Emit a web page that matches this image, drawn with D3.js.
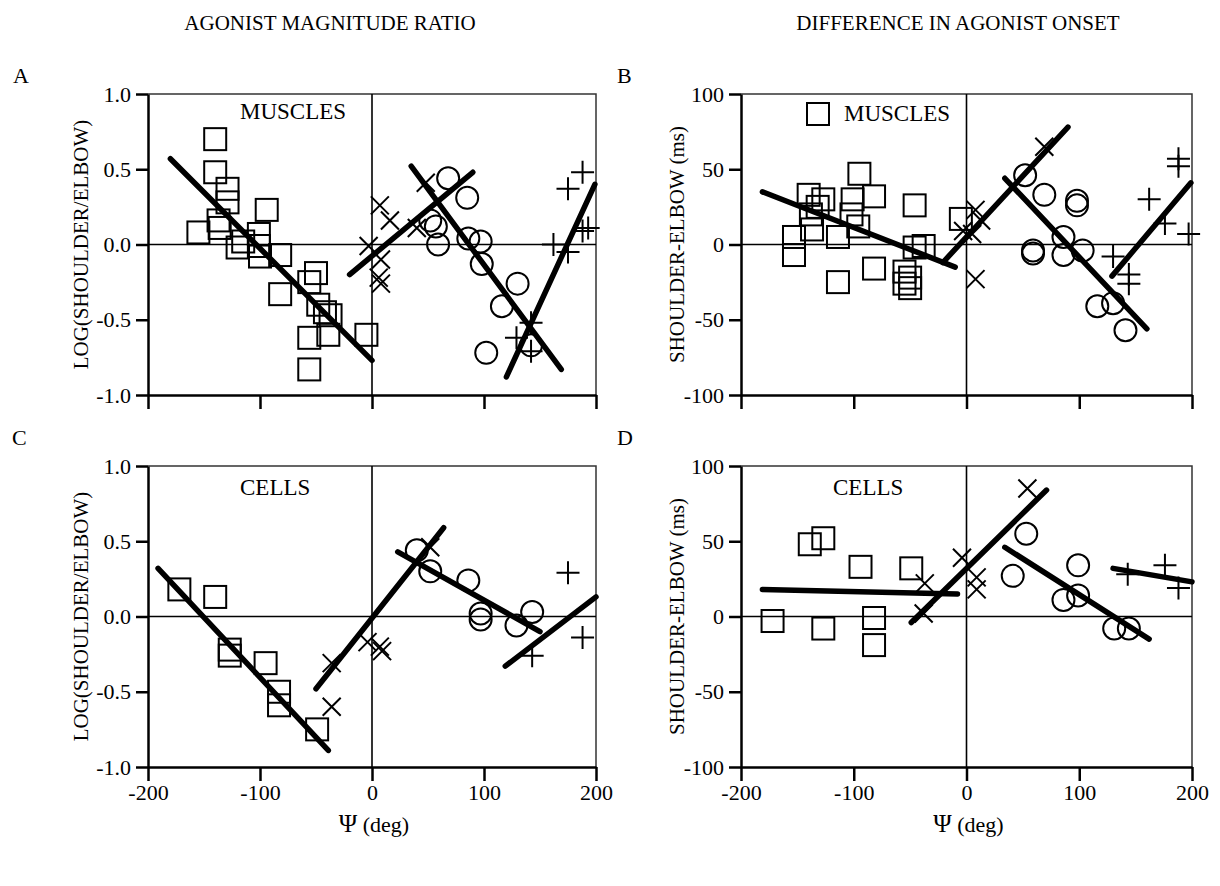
<!DOCTYPE html>
<html>
<head>
<meta charset="utf-8">
<script src="https://cdn.jsdelivr.net/npm/d3@7"></script>
<style>
    body { margin: 0; background: #fff; }
    svg { display: block; }
    text { font-family: "Liberation Serif", "Times New Roman", serif; fill: black; }
</style>
</head>
<body>
<svg id="drawing_region"></svg>
<script>
// tick values
const xTicks = [-200, -100, 0, 100, 200];
const ratioTicks = [-1.0, -0.5, 0.0, 0.5, 1.0];
const onsetTicks = [-100, -50, 0, 50, 100];

const columnTitles = ['AGONIST MAGNITUDE RATIO', 'DIFFERENCE IN AGONIST ONSET'];

// Panel A: log(shoulder/elbow), muscles
const aSquares = [[-140, 0.70], [-140, 0.48], [-129, 0.37], [-129, 0.28], [-94, 0.23], [-137, 0.16], [-136, 0.11],
    [-155, 0.08], [-115, 0.02], [-120, -0.02], [-101, 0.07], [-101, -0.01], [-100, -0.08], [-82, -0.07],
    [-82, -0.33], [-50, -0.19], [-56, -0.25], [-48, -0.40], [-42, -0.45], [-37, -0.47], [-56, -0.62],
    [-39, -0.60], [-5, -0.60], [-56, -0.83]];
const aCrosses = [[-3, -0.01], [7, 0.26], [16, 0.16], [8, -0.10], [6, -0.22], [8, -0.26], [40, 0.11], [48, 0.41]];
const aCircles = [[68, 0.44], [85, 0.31], [57, 0.12], [52, 0.16], [59, 0.0], [86, 0.04], [97, 0.02], [98, -0.13],
    [130, -0.26], [116, -0.41], [102, -0.72], [142, -0.67]];
const aPluses = [[188, 0.48], [175, 0.37], [188, 0.09], [193, 0.11], [162, 0.0], [175, -0.05], [142, -0.52],
    [129, -0.62], [142, -0.71]];
const aFits = [[[-180, 0.57], [0, -0.77]], [[-20, -0.20], [90, 0.48]], [[35, 0.52], [169, -0.83]], [[120, -0.88], [199, 0.40]]];

// Panel B: shoulder-elbow onset (ms), muscles
const bSquares = [[-140, 33], [-127, 30], [-132, 25], [-95, 47], [-101, 30], [-82, 32], [-138, 20], [-102, 20],
    [-96, 12], [-137, 10], [-153, 5], [-114, 5], [-153, -7], [-114, -25], [-82, -16], [-46, 26], [-46, -2],
    [-38, -1], [-55, -18], [-50, -22], [-55, -26], [-50, -29], [-5, 17]];
const bCrosses = [[-3, 9], [8, 23], [13, 16], [5, 7], [8, -23], [69, 65]];
const bCircles = [[52, 46], [69, 33], [98, 29], [98, 26], [59, -4], [59, -6], [86, 5], [86, -7], [103, -4],
    [116, -41], [130, -39], [141, -57]];
const bPluses = [[188, 57], [188, 52], [162, 30], [176, 14], [197, 7], [130, -8], [144, -20], [144, -26]];
const bFits = [[[-181, 35], [-10, -15]], [[-21, -12], [90, 78]], [[34, 44], [160, -56]], [[129, -21], [199, 41]]];

// Panel C: log(shoulder/elbow), cells
const cSquares = [[-172, 0.18], [-140, 0.13], [-127, -0.22], [-127, -0.26], [-95, -0.31], [-83, -0.50], [-83, -0.59], [-49, -0.75]];
const cCrosses = [[-36, -0.31], [-36, -0.60], [-4, -0.17], [7, -0.20], [9, -0.23], [52, 0.46]];
const cCircles = [[40, 0.44], [52, 0.30], [86, 0.24], [97, 0.02], [97, -0.02], [129, -0.06], [143, 0.03]];
const cPluses = [[175, 0.29], [188, -0.14], [143, -0.26]];
const cFits = [[[-191, 0.32], [-39, -0.89]], [[-50, -0.48], [64, 0.59]], [[23, 0.43], [150, -0.10]], [[119, -0.33], [200, 0.13]]];

// Panel D: shoulder-elbow onset (ms), cells
const dSquares = [[-139, 48], [-127, 52], [-94, 33], [-49, 32], [-172, -3], [-127, -8], [-82, -1], [-82, -19]];
const dCrosses = [[-37, 22], [-38, 2], [-4, 39], [9, 26], [9, 18], [54, 85]];
const dCircles = [[53, 55], [41, 27], [99, 34], [86, 11], [99, 14], [131, -8], [144, -8]];
const dPluses = [[143, 28], [176, 34], [188, 19]];
const dFits = [[[-181, 18], [-8, 15]], [[-49, -4], [71, 84]], [[34, 46], [162, -15]], [[130, 32], [200, 23]]];

const FONT = '"Liberation Serif", "Times New Roman", serif';

const svg = d3.select('#drawing_region')
    .attr('width', 1220)
    .attr('height', 886)
    .attr('font-family', FONT);

const panels = [
    { letter: 'A', lx: 13, ly: 83, left: 148, right: 596, top: 94, bottom: 395, ydomain: [-1, 1], yticks: ratioTicks,
      yfmt: d => d.toFixed(1), ylabel: 'LOG(SHOULDER/ELBOW)', ylabelX: 88, xlabels: false,
      squares: aSquares, crosses: aCrosses, circles: aCircles, pluses: aPluses, fits: aFits,
      note: 'MUSCLES', noteDx: 92, noteDy: 25, legend: false },
    { letter: 'B', lx: 617, ly: 83, left: 741, right: 1192, top: 94, bottom: 395, ydomain: [-100, 100], yticks: onsetTicks,
      yfmt: d => String(d), ylabel: 'SHOULDER-ELBOW (ms)', ylabelX: 684, xlabels: false,
      squares: bSquares, crosses: bCrosses, circles: bCircles, pluses: bPluses, fits: bFits,
      note: 'MUSCLES', noteDx: 103, noteDy: 27, legend: true },
    { letter: 'C', lx: 12, ly: 445, left: 148, right: 596, top: 466, bottom: 767, ydomain: [-1, 1], yticks: ratioTicks,
      yfmt: d => d.toFixed(1), ylabel: 'LOG(SHOULDER/ELBOW)', ylabelX: 88, xlabels: true,
      squares: cSquares, crosses: cCrosses, circles: cCircles, pluses: cPluses, fits: cFits,
      note: 'CELLS', noteDx: 92, noteDy: 29, legend: false },
    { letter: 'D', lx: 617, ly: 445, left: 741, right: 1192, top: 466, bottom: 767, ydomain: [-100, 100], yticks: onsetTicks,
      yfmt: d => String(d), ylabel: 'SHOULDER-ELBOW (ms)', ylabelX: 684, xlabels: true,
      squares: dSquares, crosses: dCrosses, circles: dCircles, pluses: dPluses, fits: dFits,
      note: 'CELLS', noteDx: 92, noteDy: 29, legend: false }
];

// column titles
svg.selectAll('.col_title')
    .data(columnTitles)
    .enter()
    .append('text')
    .attr('class', 'col_title')
    .attr('x', (d, i) => i == 0 ? 330 : 958)
    .attr('y', 30)
    .attr('text-anchor', 'middle')
    .attr('font-size', '21px')
    .text(d => d);

panels.forEach(p => drawPanel(p));

function drawPanel(p) {
    const xscale = d3.scaleLinear().domain([-200, 200]).range([p.left, p.right]);
    const yscale = d3.scaleLinear().domain(p.ydomain).range([p.bottom, p.top]);
    const g = svg.append('g');

    // panel letter
    g.append('text')
        .attr('x', p.lx)
        .attr('y', p.ly)
        .attr('font-size', '22px')
        .text(p.letter);

    // frame: top and right
    g.append('path')
        .attr('d', `M${p.left},${p.top}H${p.right}V${p.bottom}`)
        .attr('fill', 'none')
        .attr('stroke', '#333')
        .attr('stroke-width', 1.5);

    // zero lines
    g.append('line')
        .attr('x1', p.left).attr('x2', p.right)
        .attr('y1', yscale(0)).attr('y2', yscale(0))
        .attr('stroke', 'black')
        .attr('stroke-width', 1.6);
    g.append('line')
        .attr('x1', xscale(0)).attr('x2', xscale(0))
        .attr('y1', p.top).attr('y2', p.bottom)
        .attr('stroke', 'black')
        .attr('stroke-width', 1.6);

    // axes
    const xaxis = d3.axisBottom(xscale)
        .tickValues(xTicks)
        .tickSize(14)
        .tickPadding(3)
        .tickSizeOuter(0)
        .tickFormat(p.xlabels ? (d => String(d)) : '');
    const yaxis = d3.axisLeft(yscale)
        .tickValues(p.yticks)
        .tickSize(12)
        .tickPadding(5)
        .tickSizeOuter(0)
        .tickFormat(p.yfmt);

    const xg = g.append('g')
        .attr('transform', `translate(0, ${p.bottom})`)
        .call(xaxis);
    const yg = g.append('g')
        .attr('transform', `translate(${p.left}, 0)`)
        .call(yaxis);

    [xg, yg].forEach(ax => {
        ax.attr('font-family', FONT)
            .attr('font-size', '22px');
        ax.select('.domain').attr('stroke', 'black').attr('stroke-width', 2.5);
        ax.selectAll('.tick line').attr('stroke', 'black').attr('stroke-width', 2.5);
        ax.selectAll('.tick text').attr('fill', 'black').attr('font-family', FONT);
    });

    // axis labels
    g.append('text')
        .attr('transform', `translate(${p.ylabelX}, ${(p.top + p.bottom) / 2}) rotate(-90)`)
        .attr('text-anchor', 'middle')
        .attr('font-size', '21px')
        .text(p.ylabel);

    if (p.xlabels) {
        const t = g.append('text')
            .attr('x', (p.left + p.right) / 2 + 2)
            .attr('y', p.bottom + 65)
            .attr('text-anchor', 'middle')
            .attr('font-size', '22px');
        t.append('tspan').attr('font-size', '25px').text('\u03A8');
        t.append('tspan').text(' (deg)');
    }

    // markers
    const mk = g.append('g')
        .attr('fill', 'none')
        .attr('stroke', 'black')
        .attr('stroke-width', 2);

    mk.selectAll('.sq')
        .data(p.squares)
        .enter()
        .append('rect')
        .attr('x', d => xscale(d[0]) - 11)
        .attr('y', d => yscale(d[1]) - 11)
        .attr('width', 22)
        .attr('height', 22);

    mk.selectAll('.ci')
        .data(p.circles)
        .enter()
        .append('circle')
        .attr('cx', d => xscale(d[0]))
        .attr('cy', d => yscale(d[1]))
        .attr('r', 11);

    mk.selectAll('.cr')
        .data(p.crosses)
        .enter()
        .append('path')
        .attr('transform', d => `translate(${xscale(d[0])}, ${yscale(d[1])})`)
        .attr('d', 'M-9,-9L9,9M-9,9L9,-9');

    mk.selectAll('.pl')
        .data(p.pluses)
        .enter()
        .append('path')
        .attr('transform', d => `translate(${xscale(d[0])}, ${yscale(d[1])})`)
        .attr('d', 'M-11.5,0H11.5M0,-11.5V11.5');

    // regression lines
    const line = d3.line()
        .x(d => xscale(d[0]))
        .y(d => yscale(d[1]));

    g.selectAll('.fit')
        .data(p.fits)
        .enter()
        .append('path')
        .attr('d', d => line(d))
        .attr('fill', 'none')
        .attr('stroke', 'black')
        .attr('stroke-width', 5.5)
        .attr('stroke-linecap', 'round');

    // in-plot label
    if (p.legend) {
        g.append('rect')
            .attr('x', p.left + 77 - 11)
            .attr('y', p.top + 20 - 11)
            .attr('width', 22)
            .attr('height', 22)
            .attr('fill', 'none')
            .attr('stroke', 'black')
            .attr('stroke-width', 2);
    }
    g.append('text')
        .attr('x', p.left + p.noteDx)
        .attr('y', p.top + p.noteDy)
        .attr('font-size', '23px')
        .text(p.note);
}
</script>
</body>
</html>
